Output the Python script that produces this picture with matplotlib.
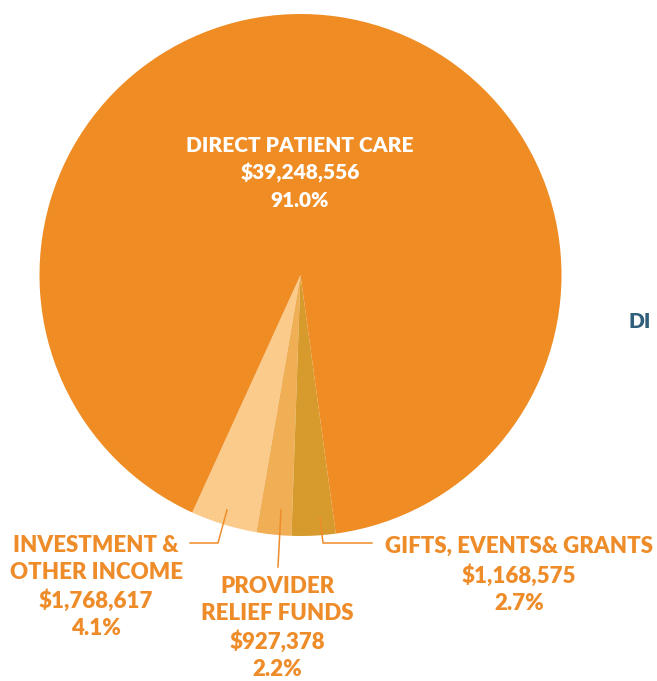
import matplotlib.pyplot as plt

# slices, counterclockwise starting at the left edge of the small wedges
labels = ["INVESTMENT &\nOTHER INCOME", "PROVIDER\nRELIEF FUNDS", "GIFTS, EVENTS& GRANTS", "DIRECT PATIENT CARE"]
amounts = [1768617, 927378, 1168575, 39248556]
amount_labels = ["$1,768,617", "$927,378", "$1,168,575", "$39,248,556"]
pct_labels = ["4.1%", "2.2%", "2.7%", "91.0%"]
colors = ["#FBCB8B", "#F0AE55", "#D69B2C", "#EF8C24"]

W, H = 657, 681
txt_orange = "#EE8C2A"

plt.rcParams['font.family'] = ['Lato', 'DejaVu Sans']

fig = plt.figure(figsize=(W / 100, H / 100), dpi=100)
ax = fig.add_axes([0, 0, 1, 1])

def Y(y):
    # image y (top down) -> axes y
    return H - y

ax.pie(amounts, colors=colors, center=(300.5, Y(275)), radius=261,
       startangle=-114.5, counterclock=True, frame=True,
       wedgeprops=dict(linewidth=0))

ax.set_xlim(0, W)
ax.set_ylim(0, H)
ax.set_aspect('equal')
ax.axis('off')

# main label inside the big slice
ax.text(300, Y(173), f"{labels[3]}\n{amount_labels[3]}\n{pct_labels[3]}",
        ha='center', va='center', color='white', fontsize=15,
        fontweight='heavy', linespacing=1.48)

# leader lines
lc = dict(color=txt_orange, lw=1.1)
ax.plot([227, 218, 190], [Y(510), Y(543), Y(543)], **lc)
ax.plot([281, 278], [Y(510), Y(567)], **lc)
ax.plot([320, 323, 372], [Y(518), Y(543), Y(543)], **lc)

# outside labels
tk = dict(ha='center', va='center', color=txt_orange, fontsize=16,
          fontweight='heavy', linespacing=1.36)
ax.text(96, Y(587), f"{labels[0]}\n{amount_labels[0]}\n{pct_labels[0]}", **tk)
ax.text(277, Y(628), f"{labels[1]}\n{amount_labels[1]}\n{pct_labels[1]}", **tk)
ax.text(519, Y(575), f"{labels[2]}\n{amount_labels[2]}\n{pct_labels[2]}", **tk)

# edge of the neighbouring chart
ax.text(629, Y(322), "DI", ha='left', va='center', color="#2F5F7A",
        fontsize=15, fontweight='heavy')

fig.savefig("out.png", dpi=100)
